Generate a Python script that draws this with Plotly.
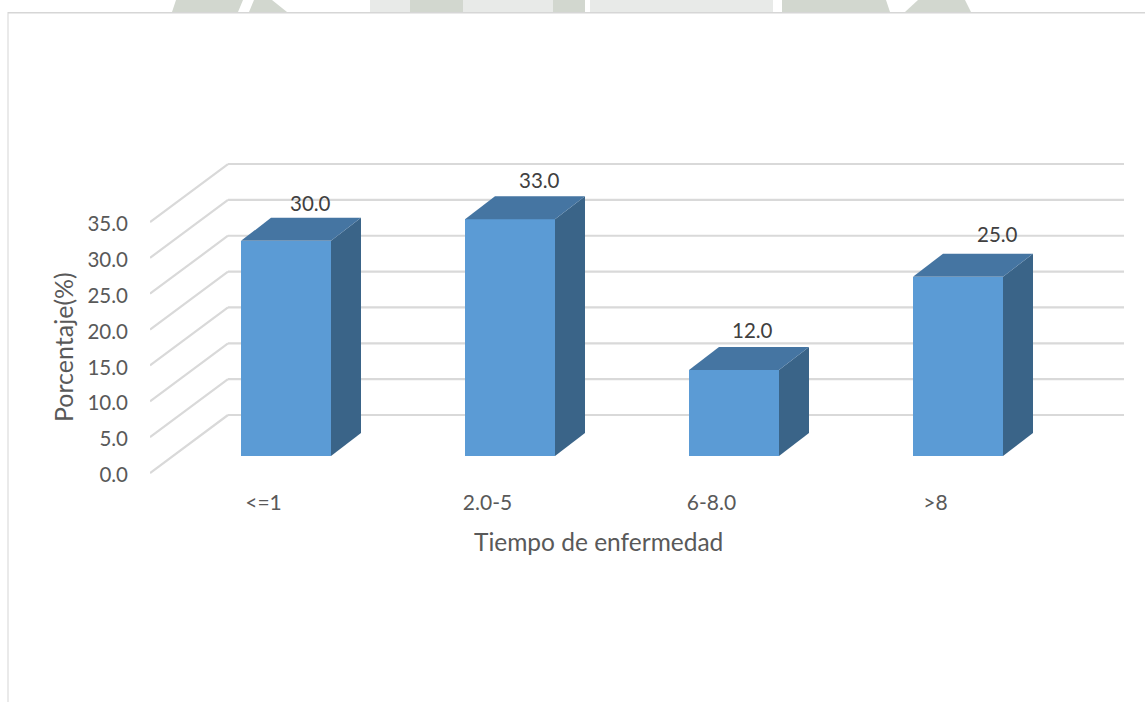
import plotly.graph_objects as go

# ---- data ----
categories = ["<=1", "2.0-5", "6-8.0", ">8"]
values = [30.0, 33.0, 12.0, 25.0]
y_ticks = [0, 5, 10, 15, 20, 25, 30, 35]
label_dx = [24, 29, 18, 39]
label_dy = [38, 39, 40, 43]

# ---- pseudo-3D geometry, in axis units ----
W, H = 1145, 702
L, R, T, B = 150, 1124, 150, 488
PX_X = 224.0            # pixels per category step
PX_Y = 7.171            # pixels per percentage point
ZERO_PX = 475           # tick 0 pixel (labels sit about 2px above their tick)
WALL_FRONT_PX = 473     # pixel of the front end of the 0 wall line
X0 = -(286 - L) / PX_X
X1 = X0 + (R - L) / PX_X
Y1 = (ZERO_PX - T) / PX_Y
Y0 = -(B - ZERO_PX) / PX_Y
FLOOR = (ZERO_PX - 456) / PX_Y
WALL_BASE = (ZERO_PX - WALL_FRONT_PX) / PX_Y
BAR_W = 90 / PX_X
DX, DY = 30 / PX_X, 23 / PX_Y
WALL_DX, WALL_DY = 78 / PX_X, 58 / PX_Y
LABEL_X_OFFSET = -22.5 / PX_X

FRONT, TOP, SIDE = "#5B9BD5", "#4575A2", "#3A6488"
GRID = "#D9D9D9"
TXT = "#595959"
FONT = "Lato"

xs = list(range(len(categories)))
fig = go.Figure()

fig.add_trace(go.Bar(x=xs, y=values, base=[FLOOR] * len(values), width=BAR_W,
                     marker=dict(color=FRONT, line=dict(width=0)),
                     hoverinfo="skip", showlegend=False))

for x, v in zip(xs, values):
    l, r = x - BAR_W / 2, x + BAR_W / 2
    b, t = FLOOR, FLOOR + v
    fig.add_trace(go.Scatter(x=[r, r + DX, r + DX, r, r], y=[b, b + DY, t + DY, t, b],
                             mode="lines", fill="toself", fillcolor=SIDE,
                             line=dict(width=0, color=SIDE),
                             hoverinfo="skip", showlegend=False))
    fig.add_trace(go.Scatter(x=[l, r, r + DX, l + DX, l], y=[t, t, t + DY, t + DY, t],
                             mode="lines", fill="toself", fillcolor=TOP,
                             line=dict(width=0, color=TOP),
                             hoverinfo="skip", showlegend=False))

shapes = []
for t in y_ticks:
    line = dict(color=GRID, width=2.2)
    y_f = t + WALL_BASE
    shapes.append(dict(type="line", xref="x", yref="y", layer="below", line=line,
                       x0=X0, y0=y_f, x1=X0 + WALL_DX, y1=y_f + WALL_DY))
    shapes.append(dict(type="line", xref="x", yref="y", layer="below", line=line,
                       x0=X0 + WALL_DX, y0=y_f + WALL_DY, x1=X1, y1=y_f + WALL_DY))


def page_rect(x0, y0, x1, y1, color):
    return dict(type="rect", xref="paper", yref="paper", layer="below",
                x0=(x0 - L) / (R - L), x1=(x1 - L) / (R - L),
                y0=(B - y1) / (B - T), y1=(B - y0) / (B - T),
                fillcolor=color, line=dict(width=0))


def page_poly(points, color):
    px = [((x - L) / (R - L), (B - y) / (B - T)) for x, y in points]
    path = "M " + " L ".join(f"{a},{b}" for a, b in px) + " Z"
    return dict(type="path", xref="paper", yref="paper", layer="below", path=path,
                fillcolor=color, line=dict(width=0))


# watermark remnants above the frame, and the frame itself
DARK_W, LIGHT_W = "#D2D7CF", "#E8EAE8"
shapes += [
    page_poly([(176, 0), (243, 0), (238, 12), (172, 12)], DARK_W),
    page_poly([(254, 0), (272, 0), (287, 12), (249, 12)], DARK_W),
    page_rect(370, 0, 553, 12, LIGHT_W),
    page_rect(410, 0, 463, 12, DARK_W),
    page_rect(553, 0, 585, 12, DARK_W),
    page_rect(590, 0, 773, 12, LIGHT_W),
    page_poly([(782, 0), (886, 0), (890, 12), (782, 12)], DARK_W),
    page_poly([(918, 0), (965, 0), (971, 12), (905, 12)], DARK_W),
    page_rect(8, 12, W, 13.5, "#D6D6D6"),
    page_rect(7.5, 12, 8.5, H, "#D6D6D6"),
]

annotations = [
    dict(x=x, y=FLOOR + v, xref="x", yref="y", text=f"{v:.1f}", showarrow=False,
         xanchor="center", yanchor="middle",
         xshift=dx, yshift=dy, font=dict(family=FONT, size=20.5, color="#404040"))
    for x, v, dx, dy in zip(xs, values, label_dx, label_dy)
]
annotations += [
    dict(x=(63 - L) / (R - L), y=(B - 347) / (B - T), xref="paper", yref="paper",
         text="Porcentaje(%)", textangle=-90, showarrow=False,
         xanchor="center", yanchor="middle",
         font=dict(family=FONT, size=25, color=TXT)),
    dict(x=(598 - L) / (R - L), y=(B - 541) / (B - T), xref="paper", yref="paper",
         text="Tiempo de enfermedad", showarrow=False,
         xanchor="center", yanchor="middle",
         font=dict(family=FONT, size=24.5, color=TXT)),
]

fig.update_layout(
    width=W, height=H,
    margin=dict(l=L, r=W - R, t=T, b=H - B, pad=0),
    paper_bgcolor="white", plot_bgcolor="rgba(0,0,0,0)",
    showlegend=False, bargap=0,
    shapes=shapes, annotations=annotations,
    xaxis=dict(range=[X0, X1], tickmode="array",
               tickvals=[x + LABEL_X_OFFSET for x in xs], ticktext=categories,
               showgrid=False, zeroline=False, showline=False, ticks="",
               tickfont=dict(family=FONT, size=21, color=TXT)),
    yaxis=dict(range=[Y0, Y1], tickmode="array", tickvals=y_ticks,
               ticktext=[f"{t:.1f}" for t in y_ticks],
               showgrid=False, zeroline=False, showline=False, ticks="",
               ticklabelstandoff=21,
               tickfont=dict(family=FONT, size=20.5, color=TXT)),
)

fig.write_html("out.html", config={"displayModeBar": False},
               post_script="document.body.style.margin='0';document.body.style.overflow='hidden';")
